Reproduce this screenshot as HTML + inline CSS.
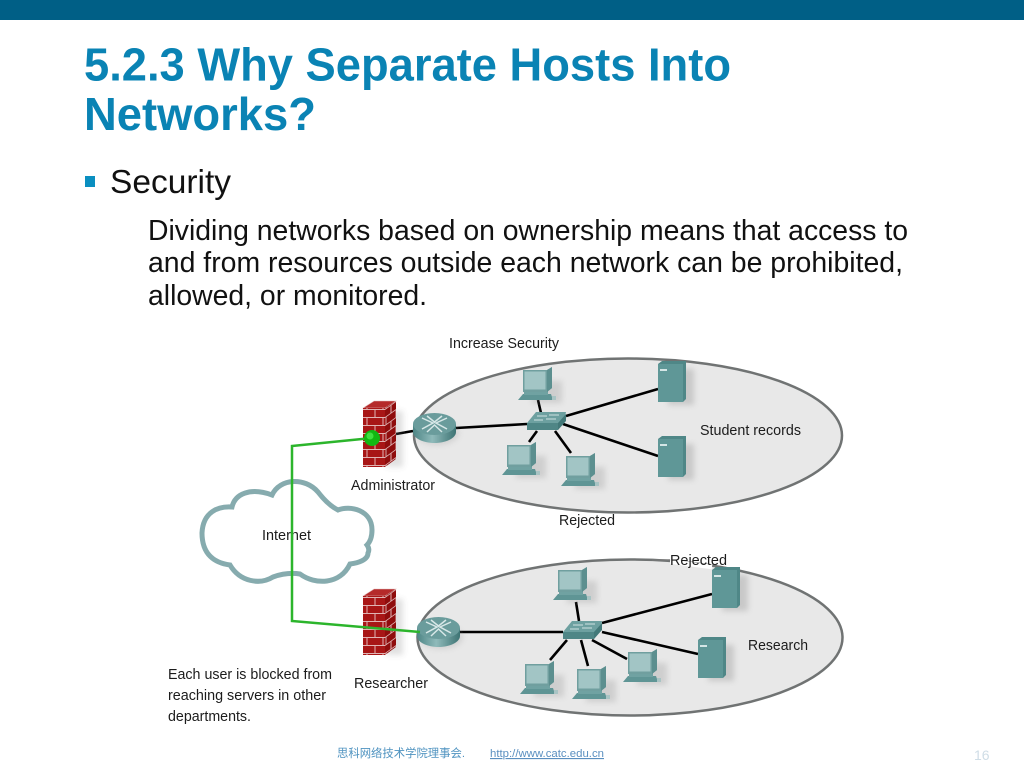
<!DOCTYPE html>
<html>
<head>
<meta charset="utf-8">
<style>
html,body{margin:0;padding:0;background:#fff;width:1024px;height:768px;overflow:hidden}
svg{display:block}
text{font-family:"Liberation Sans","Noto Sans CJK SC",sans-serif}
</style>
</head>
<body>
<svg width="1024" height="768" viewBox="0 0 1024 768" xmlns="http://www.w3.org/2000/svg">
<defs>
  <filter id="soft" x="-5%" y="-5%" width="110%" height="110%"><feGaussianBlur stdDeviation="0.35"/></filter>
  <filter id="sh" x="-50%" y="-50%" width="200%" height="200%"><feGaussianBlur stdDeviation="3"/></filter>
  <linearGradient id="rg" x1="0" x2="1" y1="0" y2="0">
    <stop offset="0" stop-color="#4d8585"/><stop offset=".45" stop-color="#8fbaba"/><stop offset="1" stop-color="#3d7373"/>
  </linearGradient>
  <pattern id="brick" width="16" height="16" patternUnits="userSpaceOnUse">
    <rect width="16" height="16" fill="#a81212"/>
    <path d="M0 .5H16M0 8.5H16M4 0V8M12 8V16" stroke="#e0b4b4" stroke-width="1" fill="none"/>
  </pattern>
  <pattern id="brick2" width="10" height="16" patternUnits="userSpaceOnUse" patternTransform="skewY(-36)">
    <rect width="10" height="16" fill="#8f0d0d"/>
    <path d="M0 .5H10M0 8.5H10M3 0V8M8 8V16" stroke="#dcaeae" stroke-width="1" fill="none"/>
  </pattern>
  <g id="pc">
    <rect x="14" y="14" width="30" height="22" fill="#777" opacity=".22" filter="url(#sh)"/>
    <path d="M0 33L5 27H33L35 33Z" fill="#5f9595"/>
    <rect x="6" y="24" width="24" height="4" fill="#6fa2a2"/>
    <path d="M5 3H29L34 0V21L29 25H5Z" fill="#6f9f9f"/>
    <path d="M29 3L34 0V21L29 25Z" fill="#5c8f8f"/>
    <rect x="6.500" y="4.500" width="21" height="18" fill="#a2c5c5"/>
    <rect x="34" y="29" width="4" height="4" fill="#a9c4c4"/>
  </g>
  <g id="srv">
    <rect x="10" y="8" width="26" height="36" fill="#777" opacity=".28" filter="url(#sh)"/>
    <path d="M0 3L4 0H28V38L25 41H0Z" fill="#4f8787"/>
    <rect x="0" y="3" width="25" height="38" fill="#5f9797"/>
    <rect x="2" y="8" width="7" height="2" fill="#d5e6e6"/>
  </g>
  <g id="rtr">
    <ellipse cx="24" cy="20" rx="22" ry="12" fill="#777" opacity=".2" filter="url(#sh)"/>
    <path d="M0 11V19C0 25 10 30 21.500 30C33 30 43 25 43 19V11Z" fill="url(#rg)"/>
    <ellipse cx="21.500" cy="11" rx="21.500" ry="11" fill="#6b9c9c"/>
    <path d="M9 5L20 10L9 16M34 5L23 10L34 16M14 3L21.500 9L29 3M14 19L21.500 12L29 19" stroke="#d8e8e8" stroke-width="1.500" fill="none"/>
  </g>
  <g id="swt">
    <path d="M0 11L9 0H39L37 9L31 18H0Z" fill="#6da0a0"/>
    <path d="M0 11H31V18H0Z" fill="#4f8686"/>
    <path d="M31 11L39 2V9L31 18Z" fill="#427878"/>
    <path d="M10 4H20M22 3H32M7 8H16M19 7H29" stroke="#cfe2e2" stroke-width="1"/>
  </g>
  <g id="fw">
    <path d="M23 10H40V66H23Z" fill="#777" opacity=".22" filter="url(#sh)"/>
    <path d="M0 7L11 0H33L22 7Z" fill="#b52a2a" stroke="#e4c0c0" stroke-width=".6"/>
    <rect x="0" y="7" width="22" height="59" fill="url(#brick)"/>
    <path d="M22 7L33 0V58L22 66Z" fill="url(#brick2)"/>
  </g>
</defs>

<rect width="1024" height="768" fill="#fff"/>
<rect width="1024" height="20" fill="#005f86"/>

<text x="84" y="80.500" font-size="46" font-weight="700" fill="#0a83b4" textLength="647" lengthAdjust="spacingAndGlyphs">5.2.3 Why Separate Hosts Into</text>
<text x="84" y="130" font-size="46" font-weight="700" fill="#0a83b4" textLength="232" lengthAdjust="spacingAndGlyphs">Networks?</text>
<rect x="85" y="176" width="10" height="11" fill="#0a8fc0"/>
<text x="110" y="193" font-size="33.500" fill="#111" textLength="121" lengthAdjust="spacingAndGlyphs">Security</text>
<text x="148" y="240" font-size="28.400" fill="#111" textLength="760" lengthAdjust="spacingAndGlyphs">Dividing networks based on ownership means that access to</text>
<text x="148" y="272" font-size="28.400" fill="#111" textLength="755" lengthAdjust="spacingAndGlyphs">and from resources outside each network can be prohibited,</text>
<text x="148" y="305" font-size="28.400" fill="#111" textLength="279" lengthAdjust="spacingAndGlyphs">allowed, or monitored.</text>

<g filter="url(#soft)">
  <ellipse cx="628" cy="435.500" rx="214" ry="77" fill="#e8e8e8" stroke="#6f7373" stroke-width="2.500"/>
  <ellipse cx="630" cy="637.500" rx="212.500" ry="78" fill="#e8e8e8" stroke="#6f7373" stroke-width="2.500"/>
  <path d="M670 561.500L712 567" stroke="#fff" stroke-width="4.500" fill="none"/>

  <path d="M202 533C203 512 218 506 232 507C235 494 250 487 272 495C280 478 305 477 318 492Q328 505 338 510C350 505 372 510 372 530Q372 540 367 545Q370 549 368 553C368 560 358 563 350 564C340 585 315 585 300 574Q287 572 273 577C260 585 240 582 230 565C215 563 202 555 202 533Z" fill="#fff" stroke="#86abae" stroke-width="5"/>

  <g stroke="#000" stroke-width="2.600" fill="none">
    <path d="M396 434L413 431M456 428L527 424M541 413L538 400M566 416L658 389M563 424L658 456M537 431L529 442M555 431L571 453"/>
    <path d="M460 632L563 632M576 602L579 621M602 623L712 594M602 632L698 654M567 640L550 660M581 640L588 666M592 640L627 659"/>
  </g>

  <use href="#pc" x="518" y="367"/>
  <use href="#pc" x="502" y="442"/>
  <use href="#pc" x="561" y="453"/>
  <use href="#srv" x="658" y="361"/>
  <use href="#srv" x="658" y="436"/>
  <use href="#swt" x="527" y="412"/>
  <use href="#rtr" x="413" y="413"/>
  <use href="#fw" x="363" y="401"/>

  <use href="#pc" x="553" y="567"/>
  <use href="#pc" x="520" y="661"/>
  <use href="#pc" x="572" y="666"/>
  <use href="#pc" x="623" y="649"/>
  <use href="#srv" x="712" y="567"/>
  <use href="#srv" x="698" y="637"/>
  <use href="#swt" x="563" y="621"/>
  <use href="#rtr" x="417" y="617"/>
  <use href="#fw" x="363" y="589"/>

  <path d="M652 560H670" stroke="#777" stroke-width="1.500"/>
</g>

<g font-size="14.800" fill="#1c1c1c">
  <text x="449" y="348" textLength="110" lengthAdjust="spacingAndGlyphs">Increase Security</text>
  <text x="351" y="490" textLength="84" lengthAdjust="spacingAndGlyphs">Administrator</text>
  <text x="559" y="525" textLength="56" lengthAdjust="spacingAndGlyphs">Rejected</text>
  <text x="700" y="435" textLength="101" lengthAdjust="spacingAndGlyphs">Student records</text>
  <text x="262" y="540" textLength="49" lengthAdjust="spacingAndGlyphs">Internet</text>
  <text x="670" y="565" textLength="57" lengthAdjust="spacingAndGlyphs">Rejected</text>
  <text x="748" y="650" textLength="60" lengthAdjust="spacingAndGlyphs">Research</text>
  <text x="354" y="688" textLength="74" lengthAdjust="spacingAndGlyphs">Researcher</text>
  <text x="168" y="679" textLength="164" lengthAdjust="spacingAndGlyphs">Each user is blocked from</text>
  <text x="168" y="700" textLength="158" lengthAdjust="spacingAndGlyphs">reaching servers in other</text>
  <text x="168" y="721" textLength="83" lengthAdjust="spacingAndGlyphs">departments.</text>
</g>

<path d="M372 438L292 446V621L420 632" fill="none" stroke="#2cb52c" stroke-width="2.500"/>
<circle cx="372" cy="438" r="8" fill="#12b812"/>
<circle cx="370" cy="436" r="3.500" fill="#3fe03f"/>

<text x="337" y="757" font-size="11.400" fill="#4f93c0" textLength="128" lengthAdjust="spacingAndGlyphs">思科网络技术学院理事会.</text>
<text x="490" y="757" font-size="11.300" fill="#5a8fc0" text-decoration="underline" textLength="114" lengthAdjust="spacingAndGlyphs">http://www.catc.edu.cn</text>
<text x="974" y="760" font-size="14" fill="#cfdde6">16</text>
</svg>
</body>
</html>
